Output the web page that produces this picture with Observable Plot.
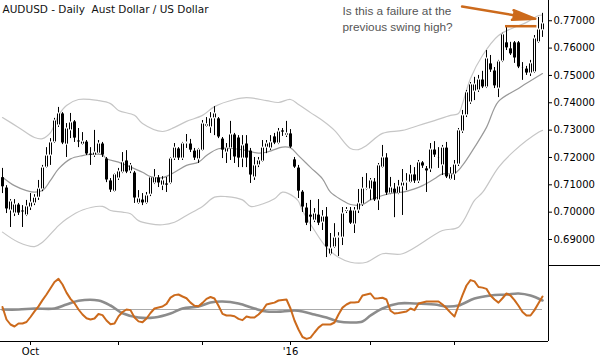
<!DOCTYPE html>
<html><head><meta charset="utf-8">
<script src="https://cdn.jsdelivr.net/npm/d3@7"></script>
<script src="https://cdn.jsdelivr.net/npm/@observablehq/plot@0.6"></script>
<style>body{margin:0;background:#fff}#chart{width:600px;height:360px;overflow:hidden;background:#fff}svg{display:block}</style>
</head><body><div id="chart"></div><script>
// ---- data (bar index 0 = 22 Sep 2015 ... 135 = 31 Mar 2016) ----
const opens = [.7128,.7090,.7006,.6995,.7028,.7006,.6988,.7017,.7032,.7053,
.7083,.7163,.7207,.7255,.7317,.7361,.7247,.7299,.7332,.7262,
.7247,.7258,.7214,.7207,.7214,.7251,.7196,.7116,.7075,.7123,
.7145,.7189,.7149,.7145,.7032,.7046,.7032,.7064,.7105,.7127,
.7097,.7105,.7105,.7196,.7233,.7196,.7251,.7251,.7225,.7193,
.7225,.7313,.7310,.7343,.7343,.7269,.7218,.7233,.7284,.7273,
.7196,.7251,.7225,.7127,.7171,.7185,.7236,.7233,.7277,.7251,
.7299,.7280,.7288,.7193,.7163,.7075,.7017,.6991,.6969,.6991,
.6962,.6984,.6845,.6871,.6907,.6907,.7002,.7006,.6955,.7006,
.7028,.7083,.7083,.7112,.7043,.7163,.7200,.7068,.7086,.7068,
.7094,.7108,.7108,.7138,.7112,.7182,.7160,.7156,.7229,.7200,
.7171,.7236,.7119,.7138,.7174,.7295,.7354,.7401,.7441,.7445,
.7485,.7456,.7544,.7518,.7452,.7551,.7621,.7599,.7621,.7621,
.7529,.7525,.7507,.7511,.7621,.7665];
const highs = [.7160,.7097,.7046,.7046,.7032,.7024,.7043,.7068,.7064,.7116,
.7171,.7236,.7269,.7343,.7383,.7364,.7324,.7361,.7335,.7306,
.7291,.7262,.7236,.7299,.7262,.7255,.7200,.7123,.7141,.7160,
.7218,.7225,.7178,.7149,.7079,.7068,.7072,.7130,.7156,.7134,
.7130,.7127,.7200,.7251,.7236,.7255,.7284,.7266,.7233,.7233,
.7335,.7346,.7364,.7386,.7346,.7273,.7251,.7332,.7288,.7280,
.7280,.7280,.7233,.7200,.7200,.7262,.7262,.7280,.7288,.7306,
.7306,.7332,.7302,.7200,.7171,.7079,.7032,.7043,.7013,.7046,
.7006,.7017,.6922,.6958,.6925,.7017,.7017,.7017,.7017,.7083,
.7127,.7141,.7123,.7123,.7178,.7244,.7214,.7127,.7105,.7116,
.7156,.7141,.7171,.7163,.7189,.7185,.7167,.7251,.7258,.7236,
.7244,.7255,.7163,.7189,.7306,.7372,.7445,.7474,.7493,.7500,
.7515,.7591,.7573,.7529,.7555,.7654,.7676,.7621,.7624,.7624,
.7547,.7533,.7555,.7646,.7712,.7727];
const lows = [.7068,.6995,.6944,.6984,.6988,.6944,.6984,.7006,.7024,.7043,
.7075,.7160,.7171,.7251,.7310,.7247,.7200,.7269,.7255,.7236,
.7244,.7207,.7171,.7200,.7211,.7200,.7108,.7072,.7072,.7116,
.7141,.7141,.7141,.7032,.7028,.7024,.7028,.7057,.7101,.7090,
.7079,.7072,.7101,.7189,.7189,.7189,.7233,.7218,.7189,.7178,
.7222,.7310,.7288,.7280,.7269,.7196,.7178,.7189,.7178,.7163,
.7163,.7163,.7105,.7116,.7163,.7182,.7214,.7225,.7247,.7247,
.7277,.7273,.7233,.7160,.7050,.6999,.6951,.6929,.6962,.6951,
.6933,.6834,.6841,.6867,.6838,.6878,.6995,.6955,.6922,.6995,
.7021,.7079,.7043,.7039,.7006,.7160,.7061,.7064,.6980,.7064,
.6988,.7079,.7105,.7105,.7105,.7160,.7072,.7145,.7200,.7160,
.7134,.7123,.7116,.7116,.7167,.7288,.7346,.7394,.7408,.7438,
.7452,.7452,.7511,.7452,.7419,.7547,.7591,.7573,.7544,.7525,
.7482,.7500,.7496,.7507,.7617,.7639];
const closes = [.7091,.7010,.7039,.7028,.6995,.6999,.7021,.7035,.7053,.7086,
.7163,.7207,.7255,.7335,.7361,.7251,.7306,.7328,.7269,.7255,
.7258,.7211,.7207,.7218,.7251,.7207,.7116,.7079,.7138,.7149,
.7182,.7145,.7171,.7050,.7050,.7032,.7061,.7127,.7127,.7105,
.7116,.7097,.7196,.7236,.7196,.7251,.7255,.7225,.7196,.7229,
.7324,.7321,.7343,.7361,.7273,.7225,.7233,.7284,.7200,.7196,
.7244,.7196,.7134,.7171,.7189,.7236,.7251,.7255,.7251,.7295,
.7291,.7288,.7236,.7163,.7075,.7017,.6958,.6980,.6995,.6958,
.6984,.6871,.6867,.6907,.6911,.6995,.7008,.6958,.7006,.7032,
.7086,.7086,.7116,.7043,.7171,.7200,.7068,.7090,.7068,.7094,
.7108,.7112,.7138,.7112,.7182,.7167,.7149,.7229,.7207,.7196,
.7236,.7127,.7138,.7174,.7299,.7354,.7438,.7467,.7467,.7485,
.7456,.7562,.7518,.7460,.7551,.7650,.7599,.7577,.7562,.7529,
.7525,.7507,.7544,.7635,.7668,.7690];

// Bollinger bands: [bar, price]
const upperBand = [[0,.7346],[4,.7310],[8,.7273],[10,.7269],[12,.7291],[14,.7354],[16,.7390],[19,.7412],[24,.7408],[27,.7397],[29,.7372],[33,.7354],[35,.7324],[40,.7295],[43,.7310],[46,.7332],[50,.7354],[53,.7386],[58,.7412],[61,.7419],[66,.7408],[69,.7401],[72,.7412],[74,.7394],[77,.7364],[80,.7335],[83,.7299],[87,.7233],[89,.7229],[91,.7244],[95,.7288],[100,.7299],[104,.7317],[108,.7335],[112,.7354],[114,.7361],[115,.7397],[117,.7489],[120,.7573],[124,.7646],[128,.7676],[131,.7694],[134,.7719],[135,.7721]];
const middleBand = [[0,.7128],[3,.7097],[6,.7079],[8,.7073],[10,.7079],[12,.7116],[14,.7158],[17,.7195],[20,.7207],[22,.7211],[25,.7210],[26,.7195],[29,.7183],[31,.7171],[35,.7146],[37,.7130],[40,.7126],[43,.7146],[46,.7171],[49,.7183],[51,.7207],[54,.7232],[58,.7232],[61,.7225],[64,.7216],[66,.7219],[70,.7238],[72,.7235],[74,.7207],[77,.7164],[80,.7122],[82,.7073],[85,.7043],[87,.7028],[90,.7028],[92,.7045],[95,.7061],[97,.7069],[100,.7073],[103,.7085],[105,.7097],[108,.7122],[110,.7140],[113,.7142],[115,.7171],[118,.7237],[121,.7310],[124,.7405],[129,.7452],[131,.7471],[135,.7507]];
const lowerBand = [[0,.6927],[4,.6890],[8,.6874],[10,.6890],[14,.6951],[16,.6975],[20,.7008],[25,.7021],[27,.7006],[30,.7000],[32,.6994],[34,.6969],[37,.6957],[40,.6954],[43,.6963],[46,.6988],[50,.7021],[53,.7055],[56,.7057],[60,.7045],[62,.7021],[65,.7030],[68,.7049],[70,.7073],[73,.7055],[74,.7040],[75,.7006],[78,.6933],[81,.6871],[84,.6835],[87,.6817],[91,.6817],[95,.6848],[100,.6848],[110,.6933],[114,.6945],[118,.7043],[120,.7072],[124,.7164],[128,.7225],[134,.7292],[135,.7299]];

// oscillator (orange per bar) and its signal (grey)
const oscFast = [52,42,38,36.4,38.8,38.8,40,44,48.5,52.5,57.5,62,67,72,74.5,70,63.5,58.5,55,50,
46,43,42,42.8,46.4,45.5,41.2,38.2,38.8,44.5,48,50,49.5,43.6,40.5,39.8,42.8,47.2,50.8,51.6,
52.4,54.5,59.5,61.5,62,60.4,59,55.5,53,52.6,55.3,58.5,60,58.8,53,46.5,45.2,45.2,44.6,42.5,
41.5,44.4,43.6,43.6,46,49.2,54,54.8,55.5,57.2,57.6,58,50.8,41.2,34,28,26.5,27.5,31.6,35.5,
38,38,38,39.6,46,51.5,54,55.6,55.6,56,61.2,62,62.8,58.8,59,59.4,58,49,46.8,47.2,
47.8,48.4,50.8,49.5,54.8,55.6,56.4,56.4,56.4,56.4,54,51,47.5,44.4,53,61.5,69.2,73.5,72.5,68,
67.5,66.5,61.2,58,55.5,59,62.8,61.2,57.5,53,48,45.2,45.2,49.5,55,60.4];
const oscSlow = [[0,50],[4,50],[8,50.8],[13,50.8],[16,54],[19,57],[24,57.2],[27,53.2],[30,47],[34,43.6],[38,43.6],[42,46.8],[45,50.8],[49,52.4],[52,55.6],[55,56.4],[59,54.8],[63,50.8],[66,48.4],[70,48.4],[73,49.2],[75,48.4],[78,46],[81,43.6],[84,40.4],[87,39.6],[90,40.4],[92,45.2],[95,50.8],[99,54.8],[103,54.8],[108,54],[111,52.4],[114,53.2],[118,58.8],[122,61.2],[126,62],[129,62.8],[132,61.2],[135,57.2]];
const oscMid = 50;

const priceTicks = [0.69,0.70,0.71,0.72,0.73,0.74,0.75,0.76,0.77];
const monthTicks = [7,29,50,72,92,113];
const monthLabels = ["Oct","","","'16","",""];

const title = "AUDUSD - Daily  Aust Dollar / US Dollar";
const note = "Is this a failure at the\nprevious swing high?";
const swingHigh = [{x1:125.75, x2:133.6, y:0.7680}];
const arrowPts = [{x1:114.9, y1:0.7752, x2:133.2, y2:0.7707}];

// ---- chart ----
const candles = opens.map((o,i)=>({i, o, h:highs[i], l:lows[i], c:closes[i],
  top: Math.max(o, closes[i]), bot: Math.min(o, closes[i]), up: closes[i] >= o}));
const ups = candles.filter(d => d.up);
const orange = "#cc6a1c";
const xDom = [-0.5, 136.5];
const font = "DejaVu Sans";

const priceChart = Plot.plot({
  width: 600, height: 266,
  marginLeft: 0, marginRight: 52, marginTop: 0, marginBottom: 1,
  style: {fontFamily: font, fontSize: "10px", color: "#000", background: "#fff", overflow: "visible"},
  x: {domain: xDom, axis: null},
  y: {domain: [0.6805, 0.7774], axis: "right", ticks: priceTicks, tickFormat: d3.format(".5f"), tickSize: 3, tickPadding: 2, label: null},
  marks: [
    Plot.line(upperBand, {x: d=>d[0], y: d=>d[1], stroke: "#c6c6c6", strokeWidth: 1.2, curve: "catmull-rom"}),
    Plot.line(lowerBand, {x: d=>d[0], y: d=>d[1], stroke: "#c6c6c6", strokeWidth: 1.2, curve: "catmull-rom"}),
    Plot.line(middleBand, {x: d=>d[0], y: d=>d[1], stroke: "#999", strokeWidth: 1.2, curve: "catmull-rom"}),
    // wicks
    Plot.ruleX(candles, {x: "i", y1: "l", y2: "h", stroke: "#000", strokeWidth: 1}),
    // bodies: solid 3px column, hollowed for up candles
    Plot.ruleX(candles, {x: "i", y1: "bot", y2: "top", stroke: "#000", strokeWidth: 3, insetTop: -0.5, insetBottom: -0.5}),
    Plot.ruleX(ups, {x: "i", y1: "bot", y2: "top", stroke: "#fff", strokeWidth: 1, insetTop: 0.5, insetBottom: 0.5}),
    Plot.ruleX([136.5], {stroke: "#000"}),
    Plot.ruleY([0.6805], {x1: 136.5, x2: 152, stroke: "#000"}),
    Plot.ruleY(swingHigh, {x1: "x1", x2: "x2", y: "y", stroke: orange, strokeWidth: 2.5}),
    Plot.arrow(arrowPts, {x1: "x1", y1: "y1", x2: "x2", y2: "y2", stroke: orange, fill: orange, strokeWidth: 2.5, headLength: 14, headAngle: 24}),
    Plot.text([title], {text: d=>d, frameAnchor: "top-left", dx: 2, dy: 5, lineAnchor: "top", textAnchor: "start", fontSize: 10.5, fontFamily: font, fill: "#111"}),
    Plot.text([note], {text: d=>d, frameAnchor: "top-left", dx: 342, dy: 4, lineAnchor: "top", textAnchor: "start", fontSize: 11.8, fontFamily: "Liberation Sans", fill: "#555", lineHeight: 1.3})
  ]
});

const oscChart = Plot.plot({
  width: 600, height: 94,
  marginLeft: 0, marginRight: 52, marginTop: 0, marginBottom: 19,
  style: {fontFamily: font, fontSize: "10px", color: "#000", background: "#fff", overflow: "visible"},
  x: {domain: xDom, ticks: monthTicks, tickFormat: (d) => monthLabels[monthTicks.indexOf(d)], tickSize: 4, tickPadding: 2, label: null},
  y: {domain: [24.4, 84.4], axis: null},
  marks: [
    Plot.ruleY([oscMid], {x1: -0.5, x2: 135, stroke: "#aaa", strokeWidth: 1}),
    Plot.line(oscSlow, {x: d=>d[0], y: d=>d[1], stroke: "#8c8c8c", strokeWidth: 2.6, curve: "catmull-rom"}),
    Plot.line(oscFast, {x: (d,i)=>i, y: d=>d, stroke: orange, strokeWidth: 2}),
    Plot.ruleY([24.4], {stroke: "#000"}),
    Plot.ruleX([136.5], {stroke: "#000"})
  ]
});

const el = document.getElementById("chart");
el.appendChild(priceChart);
el.appendChild(oscChart);
</script></body></html>
